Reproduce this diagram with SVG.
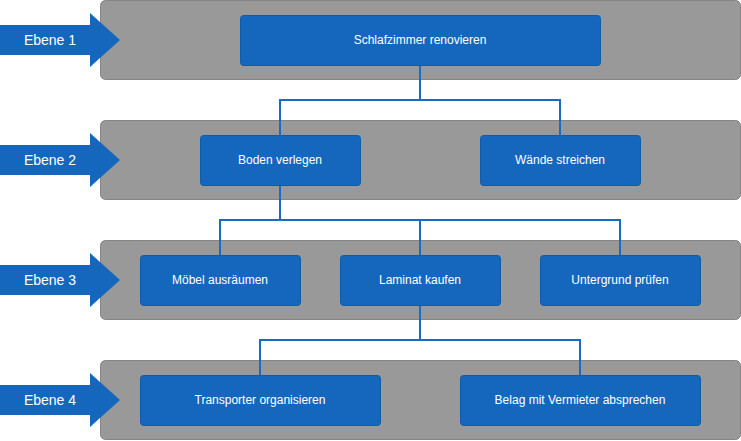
<svg xmlns="http://www.w3.org/2000/svg" width="741" height="441" viewBox="0 0 741 441">
<style>
.band{fill:#999999;stroke:#858585;stroke-width:1}
.node rect{fill:#1467bd;stroke:#0f5ca8;stroke-width:1}
.node text,.lvl text{fill:#ffffff;font-family:"Liberation Sans",Arial,sans-serif;text-anchor:middle;dominant-baseline:central}
.node text{font-size:12px}
.lvl text{font-size:14px}
.lvl path{fill:#1467bd}
.conn path{fill:none;stroke:#1a6cc2;stroke-width:2}
</style>
<rect width="741" height="441" fill="#ffffff"/>
<g id="bands">
<rect class="band" x="100.5" y="0.5" width="640" height="79" rx="5"/>
<rect class="band" x="100.5" y="120.5" width="640" height="79" rx="5"/>
<rect class="band" x="100.5" y="240.5" width="640" height="79" rx="5"/>
<rect class="band" x="100.5" y="360.5" width="640" height="79" rx="5"/>
</g>
<g id="ebene1" class="lvl"><path d="M0 25H90V13L120 40L90 67V55H0Z"/><text x="50" y="40">Ebene 1</text></g>
<g id="ebene2" class="lvl"><path d="M0 145H90V133L120 160L90 187V175H0Z"/><text x="50" y="160">Ebene 2</text></g>
<g id="ebene3" class="lvl"><path d="M0 265H90V253L120 280L90 307V295H0Z"/><text x="50" y="280">Ebene 3</text></g>
<g id="ebene4" class="lvl"><path d="M0 385H90V373L120 400L90 427V415H0Z"/><text x="50" y="400">Ebene 4</text></g>
<g id="connectors" class="conn">
<path d="M420 65V100M280 135V100H560V135"/>
<path d="M280 185V220M220 255V220H620V255M420 220V255"/>
<path d="M420 305V340M260 375V340H580V375"/>
</g>
<g id="n-root" class="node"><rect x="240.5" y="15.5" width="360" height="50" rx="3"/><text x="420" y="40">Schlafzimmer renovieren</text></g>
<g id="n-boden" class="node"><rect x="200.5" y="135.5" width="160" height="50" rx="3"/><text x="280" y="160">Boden verlegen</text></g>
<g id="n-waende" class="node"><rect x="480.5" y="135.5" width="160" height="50" rx="3"/><text x="560" y="160">Wände streichen</text></g>
<g id="n-moebel" class="node"><rect x="140.5" y="255.5" width="160" height="50" rx="3"/><text x="220" y="280">Möbel ausräumen</text></g>
<g id="n-laminat" class="node"><rect x="340.5" y="255.5" width="160" height="50" rx="3"/><text x="420" y="280">Laminat kaufen</text></g>
<g id="n-untergrund" class="node"><rect x="540.5" y="255.5" width="160" height="50" rx="3"/><text x="620" y="280">Untergrund prüfen</text></g>
<g id="n-transporter" class="node"><rect x="140.5" y="375.5" width="240" height="50" rx="3"/><text x="260" y="400">Transporter organisieren</text></g>
<g id="n-belag" class="node"><rect x="460.5" y="375.5" width="240" height="50" rx="3"/><text x="580" y="400">Belag mit Vermieter absprechen</text></g>
</svg>
